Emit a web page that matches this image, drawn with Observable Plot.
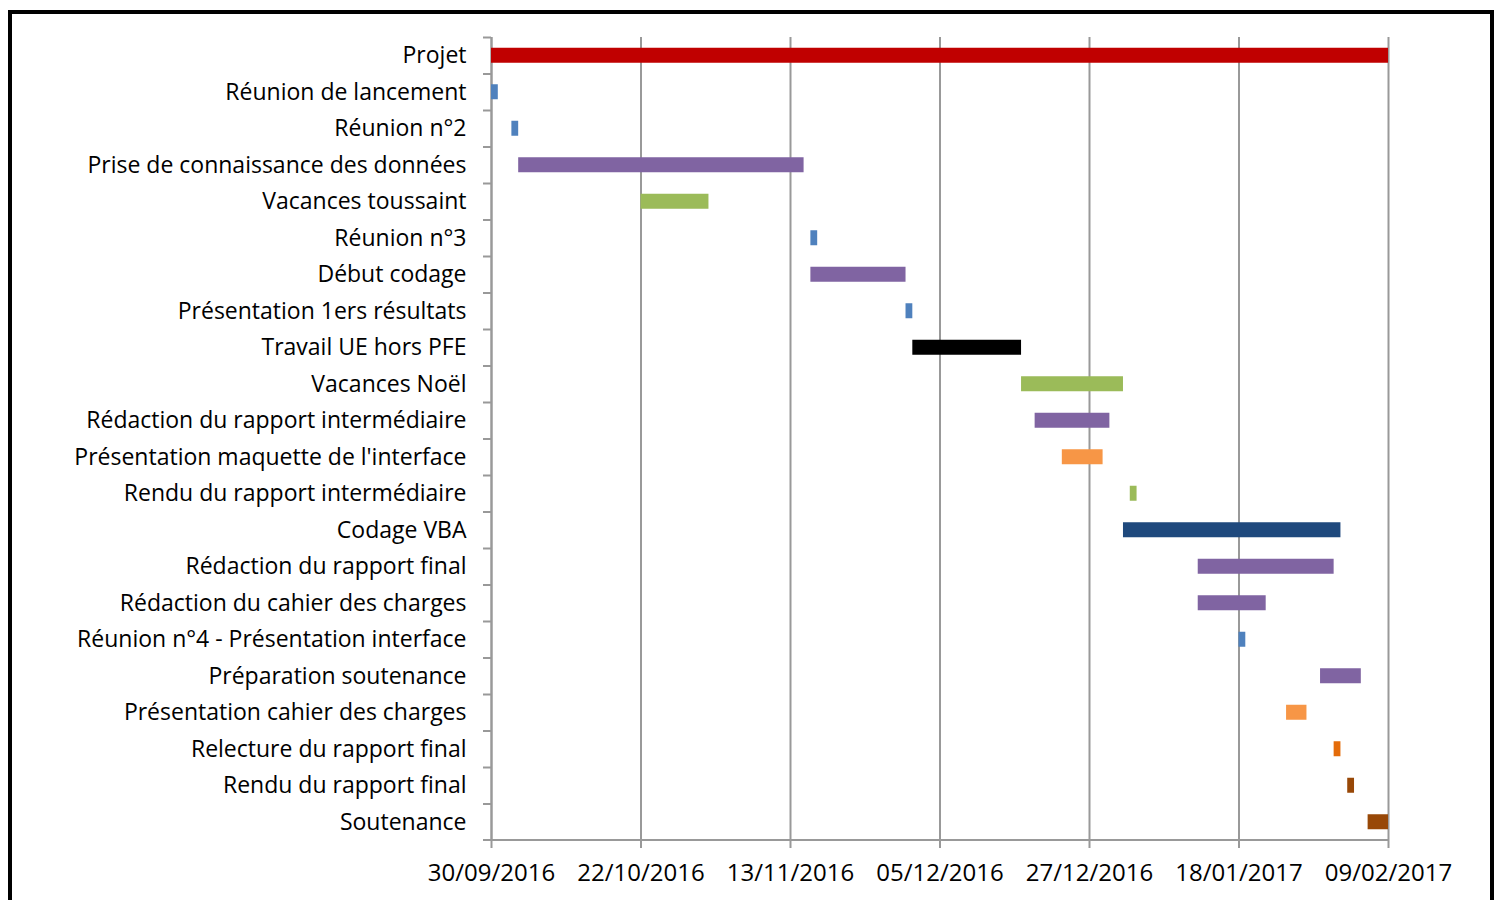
<!DOCTYPE html>
<html>
<head>
<meta charset="utf-8">
<script src="https://cdn.jsdelivr.net/npm/d3@7"></script>
<script src="https://cdn.jsdelivr.net/npm/@observablehq/plot@0.6"></script>
<style>
  html, body { margin: 0; padding: 0; background: #fff; overflow: hidden; width: 1497px; height: 900px; }
  #frame { position: absolute; left: 8px; top: 10px; width: 1486px; height: 1000px; border: 4px solid #000; box-sizing: border-box; }
  #chart { position: absolute; left: 0; top: 0; }
</style>
</head>
<body>
<div id="frame"></div>
<div id="chart"></div>
<script>
const tasks = [
  "Projet",
  "Réunion de lancement",
  "Réunion n°2",
  "Prise de connaissance des données",
  "Vacances toussaint",
  "Réunion n°3",
  "Début codage",
  "Présentation 1ers résultats",
  "Travail UE hors PFE",
  "Vacances Noël",
  "Rédaction du rapport intermédiaire",
  "Présentation maquette de l'interface",
  "Rendu du rapport intermédiaire",
  "Codage VBA",
  "Rédaction du rapport final",
  "Rédaction du cahier des charges",
  "Réunion n°4 - Présentation interface",
  "Préparation soutenance",
  "Présentation cahier des charges",
  "Relecture du rapport final",
  "Rendu du rapport final",
  "Soutenance"
];
const starts = [
  "2016-09-30","2016-09-30","2016-10-03","2016-10-04","2016-10-22","2016-11-16",
  "2016-11-16","2016-11-30","2016-12-01","2016-12-17","2016-12-19","2016-12-23",
  "2017-01-02","2017-01-01","2017-01-12","2017-01-12","2017-01-18","2017-01-30",
  "2017-01-25","2017-02-01","2017-02-03","2017-02-06"
];
const ends = [
  "2017-02-09","2016-10-01","2016-10-04","2016-11-15","2016-11-01","2016-11-17",
  "2016-11-30","2016-12-01","2016-12-17","2017-01-01","2016-12-30","2016-12-29",
  "2017-01-03","2017-02-02","2017-02-01","2017-01-22","2017-01-19","2017-02-05",
  "2017-01-28","2017-02-02","2017-02-04","2017-02-09"
];
const colors = [
  "#C00000","#4F81BD","#4F81BD","#8064A2","#9BBB59","#4F81BD",
  "#8064A2","#4F81BD","#000000","#9BBB59","#8064A2","#F79646",
  "#9BBB59","#1F497D","#8064A2","#8064A2","#4F81BD","#8064A2",
  "#F79646","#E46C0A","#984807","#984807"
];
const tickLabels = ["2016-09-30","2016-10-22","2016-11-13","2016-12-05","2016-12-27","2017-01-18","2017-02-09"];

const data = tasks.map((t, i) => ({task: t, start: new Date(starts[i]), end: new Date(ends[i]), color: colors[i]}));
const ticks = tickLabels.map(d => new Date(d));
const fmt = d3.utcFormat("%d/%m/%Y");

const W = 1497, H = 900, ML = 491, MR = 109, MT = 37, MB = 60;

const chart = Plot.plot({
  width: W, height: H,
  marginLeft: ML, marginRight: MR, marginTop: MT, marginBottom: MB,
  style: {fontFamily: "'Open Sans', sans-serif", fontSize: "23px", color: "#000", background: "transparent", overflow: "visible"},
  x: {type: "utc", domain: [ticks[0], ticks[ticks.length - 1]]},
  y: {domain: tasks, paddingInner: 0.589, paddingOuter: 0.2945, round: false},
  color: {type: "identity"},
  marks: [
    Plot.gridX(ticks, {stroke: "#999", strokeOpacity: 1, strokeWidth: 2}),
    Plot.ruleX([ticks[0]], {stroke: "#999", strokeWidth: 2}),
    Plot.axisY({text: null, tickSize: 8, dy: -18.25, stroke: "#999", strokeWidth: 2, strokeOpacity: 1, label: null}),
    Plot.axisY({tickSize: 0, tickPadding: 25, fontSize: 23, fill: "#000", label: null}),
    Plot.barX(data, {x1: "start", x2: "end", y: "task", fill: "color"}),
    Plot.axisX(ticks, {tickSize: 8, tickPadding: 15, tickFormat: fmt, fontSize: 24, stroke: "#999", strokeWidth: 2, strokeOpacity: 1, fill: "#000", label: null})
  ]
});

const xs = chart.scale("x");
d3.select(chart).append("line")
  .attr("x1", xs.apply(ticks[0]) - 8)
  .attr("x2", xs.apply(ticks[ticks.length - 1]))
  .attr("y1", H - MB).attr("y2", H - MB)
  .attr("stroke", "#999").attr("stroke-width", 2);

document.getElementById("chart").appendChild(chart);
</script>
</body>
</html>
